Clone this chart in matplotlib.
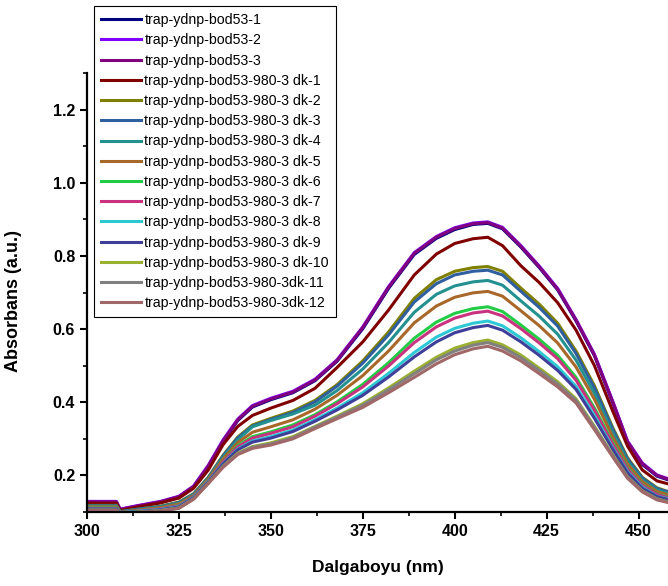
import matplotlib
matplotlib.use("Agg")
import matplotlib.pyplot as plt
from matplotlib.ticker import MultipleLocator

plt.rcParams['font.family'] = ['Liberation Sans', 'DejaVu Sans']

# wavelength grid (nm), shared by all spectra
wl = [300, 308, 309, 314, 320, 325, 329, 333, 337, 341, 345, 350, 356, 362,
      368, 375, 382, 389, 395, 400, 405, 409, 413, 418, 423, 428, 433, 438,
      443, 447, 451, 455, 458]

bod53_1 = [0.126, 0.126, 0.105, 0.115, 0.126, 0.140, 0.168, 0.224, 0.293,
           0.350, 0.387, 0.407, 0.426, 0.459, 0.512, 0.601, 0.711, 0.804,
           0.848, 0.872, 0.886, 0.889, 0.874, 0.824, 0.768, 0.707, 0.622,
           0.527, 0.398, 0.290, 0.230, 0.198, 0.188]
bod53_2 = [0.129, 0.129, 0.108, 0.118, 0.129, 0.143, 0.171, 0.228, 0.297,
           0.354, 0.391, 0.411, 0.430, 0.463, 0.516, 0.606, 0.716, 0.809,
           0.853, 0.877, 0.890, 0.893, 0.878, 0.828, 0.772, 0.711, 0.626,
           0.531, 0.402, 0.294, 0.234, 0.201, 0.191]
bod53_3 = [0.128, 0.128, 0.107, 0.117, 0.128, 0.142, 0.170, 0.226, 0.295,
           0.352, 0.389, 0.409, 0.428, 0.461, 0.514, 0.604, 0.714, 0.807,
           0.851, 0.875, 0.888, 0.891, 0.876, 0.826, 0.770, 0.709, 0.624,
           0.529, 0.400, 0.292, 0.232, 0.200, 0.190]
dk_1 = [0.124, 0.124, 0.104, 0.114, 0.125, 0.138, 0.165, 0.215, 0.284,
        0.334, 0.364, 0.384, 0.405, 0.438, 0.495, 0.565, 0.652, 0.748,
        0.805, 0.834, 0.847, 0.851, 0.828, 0.773, 0.727, 0.672, 0.597,
        0.500, 0.375, 0.280, 0.215, 0.185, 0.177]
dk_2 = [0.118, 0.118, 0.101, 0.108, 0.116, 0.127, 0.150, 0.195, 0.255,
        0.305, 0.338, 0.356, 0.376, 0.405, 0.448, 0.513, 0.592, 0.684,
        0.735, 0.758, 0.768, 0.771, 0.758, 0.712, 0.668, 0.616, 0.540,
        0.445, 0.330, 0.248, 0.195, 0.166, 0.156]
dk_3 = [0.117, 0.117, 0.101, 0.108, 0.115, 0.126, 0.149, 0.194, 0.253,
        0.303, 0.335, 0.353, 0.372, 0.401, 0.444, 0.507, 0.584, 0.674,
        0.724, 0.748, 0.758, 0.761, 0.748, 0.703, 0.659, 0.608, 0.533,
        0.439, 0.326, 0.245, 0.193, 0.164, 0.155]
dk_4 = [0.116, 0.116, 0.100, 0.106, 0.114, 0.124, 0.147, 0.192, 0.249,
        0.297, 0.333, 0.350, 0.368, 0.392, 0.432, 0.491, 0.563, 0.646,
        0.695, 0.718, 0.729, 0.733, 0.720, 0.677, 0.635, 0.586, 0.515,
        0.424, 0.316, 0.238, 0.188, 0.160, 0.151]
dk_5 = [0.114, 0.114, 0.099, 0.105, 0.112, 0.122, 0.145, 0.190, 0.245,
        0.290, 0.318, 0.333, 0.352, 0.381, 0.419, 0.473, 0.540, 0.617,
        0.663, 0.687, 0.699, 0.703, 0.690, 0.650, 0.609, 0.562, 0.496,
        0.408, 0.305, 0.231, 0.183, 0.156, 0.147]
dk_6 = [0.111, 0.111, 0.098, 0.103, 0.109, 0.118, 0.142, 0.186, 0.238,
        0.281, 0.306, 0.319, 0.338, 0.366, 0.401, 0.449, 0.508, 0.575,
        0.619, 0.643, 0.656, 0.661, 0.648, 0.611, 0.572, 0.528, 0.468,
        0.384, 0.290, 0.220, 0.175, 0.149, 0.141]
dk_7 = [0.110, 0.110, 0.098, 0.103, 0.109, 0.117, 0.142, 0.185, 0.237,
        0.278, 0.302, 0.315, 0.333, 0.362, 0.396, 0.442, 0.499, 0.563,
        0.606, 0.630, 0.644, 0.649, 0.636, 0.601, 0.562, 0.519, 0.460,
        0.378, 0.285, 0.217, 0.173, 0.148, 0.139]
dk_8 = [0.108, 0.108, 0.098, 0.102, 0.107, 0.115, 0.140, 0.183, 0.232,
        0.272, 0.294, 0.306, 0.324, 0.352, 0.384, 0.426, 0.479, 0.536,
        0.578, 0.602, 0.616, 0.622, 0.609, 0.576, 0.538, 0.497, 0.443,
        0.363, 0.275, 0.210, 0.168, 0.143, 0.136]
dk_9 = [0.108, 0.108, 0.097, 0.101, 0.106, 0.114, 0.139, 0.182, 0.231,
        0.270, 0.291, 0.302, 0.320, 0.348, 0.379, 0.419, 0.469, 0.524,
        0.565, 0.590, 0.604, 0.610, 0.597, 0.565, 0.528, 0.487, 0.435,
        0.356, 0.271, 0.207, 0.165, 0.142, 0.134]
dk_10 = [0.105, 0.105, 0.096, 0.100, 0.104, 0.111, 0.136, 0.179, 0.225,
         0.261, 0.279, 0.289, 0.306, 0.334, 0.362, 0.396, 0.439, 0.485,
         0.523, 0.548, 0.563, 0.570, 0.557, 0.529, 0.493, 0.456, 0.409,
         0.334, 0.256, 0.196, 0.158, 0.136, 0.128]
dk_11 = [0.105, 0.105, 0.096, 0.099, 0.104, 0.111, 0.136, 0.179, 0.224,
         0.259, 0.277, 0.286, 0.303, 0.332, 0.359, 0.392, 0.434, 0.478,
         0.516, 0.540, 0.556, 0.563, 0.550, 0.522, 0.487, 0.450, 0.405,
         0.331, 0.254, 0.195, 0.157, 0.135, 0.127]
dk_12 = [0.104, 0.104, 0.096, 0.099, 0.103, 0.110, 0.135, 0.178, 0.222,
         0.257, 0.274, 0.283, 0.300, 0.328, 0.355, 0.386, 0.426, 0.468,
         0.505, 0.530, 0.546, 0.553, 0.540, 0.513, 0.478, 0.442, 0.398,
         0.325, 0.250, 0.192, 0.155, 0.133, 0.126]

series = [bod53_1, bod53_2, bod53_3, dk_1, dk_2, dk_3, dk_4, dk_5, dk_6,
          dk_7, dk_8, dk_9, dk_10, dk_11, dk_12]
labels = ['trap-ydnp-bod53-1', 'trap-ydnp-bod53-2', 'trap-ydnp-bod53-3',
          'trap-ydnp-bod53-980-3 dk-1', 'trap-ydnp-bod53-980-3 dk-2',
          'trap-ydnp-bod53-980-3 dk-3', 'trap-ydnp-bod53-980-3 dk-4',
          'trap-ydnp-bod53-980-3 dk-5', 'trap-ydnp-bod53-980-3 dk-6',
          'trap-ydnp-bod53-980-3 dk-7', 'trap-ydnp-bod53-980-3 dk-8',
          'trap-ydnp-bod53-980-3 dk-9', 'trap-ydnp-bod53-980-3 dk-10',
          'trap-ydnp-bod53-980-3dk-11', 'trap-ydnp-bod53-980-3dk-12']
colors = ['#000080', '#8000ff', '#800080', '#800000', '#808000', '#2f5f9f',
          '#22918f', '#a8682a', '#22cc44', '#c8327f', '#2cc8d4', '#3f3f9a',
          '#99b030', '#808080', '#a06868']

fig = plt.figure(figsize=(6.68, 5.86), dpi=100)
ax = fig.add_axes([87 / 668, 1 - 512 / 586, 1 - 87 / 668, (512 - 73) / 586])

for y, lab, c in zip(series, labels, colors):
    ax.plot(wl, y, color=c, lw=2.2, label=lab)

ax.set_xlim(300, 458)
ax.set_ylim(0.1, 1.3)
ax.xaxis.set_major_locator(MultipleLocator(25))
ax.xaxis.set_minor_locator(MultipleLocator(12.5))
ax.set_yticks([0.2, 0.4, 0.6, 0.8, 1.0, 1.2])
ax.yaxis.set_minor_locator(MultipleLocator(0.1))

for side in ['top', 'right']:
    ax.spines[side].set_visible(False)
for side in ['left', 'bottom']:
    ax.spines[side].set_linewidth(1.6)

ax.tick_params(which='major', direction='out', length=5, width=1.5,
               labelsize=11.5)
ax.tick_params(which='minor', direction='out', length=3, width=1.2)
for t in ax.get_xticklabels() + ax.get_yticklabels():
    t.set_fontweight('bold')

ax.set_xlabel('Dalgaboyu (nm)', fontsize=12.5, fontweight='bold')
ax.xaxis.set_label_coords(0.5, -0.11)
ax.set_ylabel('Absorbans (a.u.)', fontsize=13, fontweight='bold')
ax.yaxis.set_label_coords(-0.112, 0.48)

leg = fig.legend(loc='upper left', bbox_to_anchor=(94 / 668, 1 - 6 / 586),
                 fontsize=10.2, frameon=True, fancybox=False,
                 edgecolor='black', framealpha=1, labelspacing=0.44,
                 handlelength=2.8, handletextpad=0.25, borderpad=0.5,
                 borderaxespad=0)
leg.get_frame().set_linewidth(0.8)

fig.savefig('out.png', dpi=100)
